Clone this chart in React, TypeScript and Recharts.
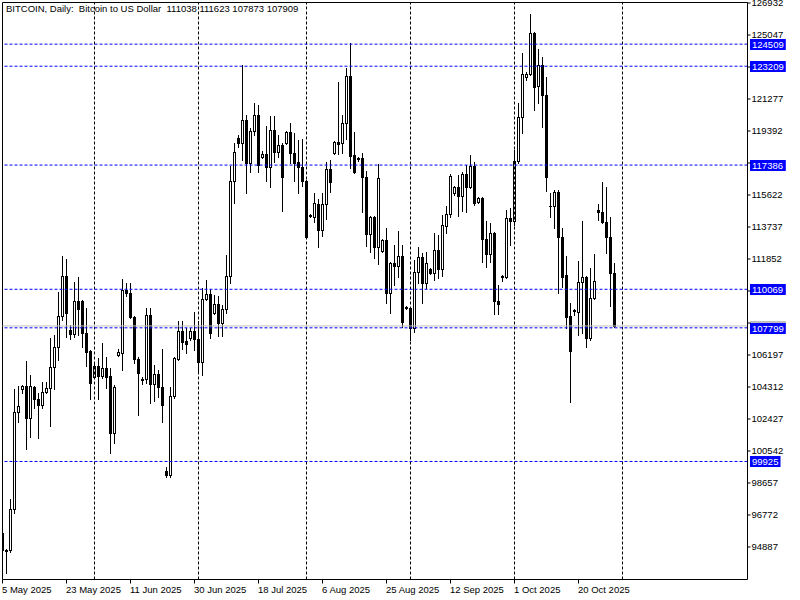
import React from "react";
import { ComposedChart, Bar, XAxis, YAxis, ReferenceLine } from "recharts";

const FONT = '"Liberation Sans", Arial, sans-serif';

// BITCOIN daily bars, 5 May 2025 .. 30 Oct 2025 (no Saturday bars)
const opens = [
  95712, 94681, 94711, 97126, 102840, 104195, 104371, 102486, 104313, 103605,
  103252, 104018, 104254, 105490, 106669, 108495, 110851, 107670, 107434, 109378,
  109378, 107493, 106433, 104901, 105549, 104960, 105431, 104960, 101603, 106197,
  106315, 110026, 109849, 108436, 105962, 104784, 104784, 108554, 104489, 105078,
  104313, 99364, 99129, 103782, 105962, 107611, 107022, 107199, 107611, 107140,
  105785, 109496, 109791, 108671, 109202, 108082, 108907, 110851, 116447, 118980,
  118685, 120040, 117507, 119392, 120335, 117861, 118038, 117272, 119451, 118155,
  118568, 118685, 119333, 118096, 117566, 117272, 116447, 114440, 114326, 115092,
  113561, 115092, 117154, 118096, 118744, 118685, 119864, 122632, 117979, 117802,
  117802, 116683, 113325, 114326, 112559, 112324, 112972, 109849, 111617, 111440,
  112029, 109025, 108966, 107788, 111087, 111970, 110439, 111263, 111028, 112383,
  111263, 113796, 114503, 115740, 116094, 115563, 116859, 116094, 117331, 115210,
  115446, 113030, 112147, 113384, 109378, 110800, 110792, 114268, 114091, 117625,
  120217, 122573, 122750, 125165, 122043, 123280, 121513, 115000, 114974, 115799,
  113148, 110910, 108495, 108789, 108730, 110498, 110792, 107199, 109555, 114739,
  114621, 114032, 113148, 111038,
];
const highs = [
  96007, 94770, 97715, 104195, 104371, 104430, 105844, 105019, 104371, 103959,
  104607, 104607, 107199, 107375, 109908, 112029, 111852, 107965, 110498, 110792,
  109437, 108966, 106492, 105785, 106021, 106904, 106080, 105431, 104430, 106551,
  110674, 110439, 110439, 108495, 106080, 104901, 108966, 108966, 105608, 105314,
  106551, 99600, 104313, 106080, 108200, 108200, 107788, 107788, 108730, 108200,
  110144, 110615, 110085, 109732, 109673, 109143, 112088, 117331, 118685, 119157,
  123280, 120335, 119569, 121042, 120924, 118214, 119687, 120276, 120276, 119157,
  118685, 119392, 119864, 119274, 118862, 118921, 116506, 114503, 115740, 115387,
  115740, 117566, 117684, 118803, 122279, 120335, 123103, 124576, 119333, 117861,
  118096, 117036, 114385, 114385, 117448, 113030, 113678, 111676, 112677, 113502,
  112677, 109084, 109025, 111793, 112559, 112206, 112265, 111322, 113384, 113266,
  114444, 114974, 116859, 116152, 116800, 116977, 117390, 117979, 117566, 115505,
  115505, 114091, 113973, 113443, 110321, 110910, 114739, 114857, 118273, 121042,
  123987, 122868, 126284, 125224, 124223, 123751, 122573, 115740, 115917, 115917,
  113678, 112029, 109260, 108907, 111734, 114091, 110851, 111322, 112147, 115092,
  116388, 116094, 114326, 111623,
];
const lows = [
  94593, 93356, 94593, 96890, 102251, 103959, 100660, 101367, 103075, 101308,
  103075, 103959, 102015, 104195, 105903, 108259, 107258, 107140, 107258, 107375,
  106669, 105549, 103605, 104842, 103605, 104842, 104254, 100425, 101014, 106138,
  105314, 109673, 108377, 105726, 102663, 104489, 104548, 103370, 103488, 103723,
  102251, 99011, 99011, 103664, 105903, 106551, 106315, 107081, 106492, 105196,
  105019, 109437, 107199, 108612, 107317, 107317, 108671, 110439, 115151, 118450,
  117684, 115740, 116977, 119157, 116977, 117802, 116447, 116094, 117566, 117861,
  114678, 118627, 117507, 116447, 115740, 116152, 113089, 114326, 114032, 112559,
  113207, 114209, 115799, 118038, 118038, 118096, 118921, 117213, 116918, 117625,
  114621, 112618, 112265, 111911, 111558, 112265, 109260, 108671, 110321, 110792,
  107847, 108907, 107081, 107552, 110439, 109260, 110144, 110969, 110615, 110733,
  110851, 113384, 114326, 115622, 114385, 114678, 114621, 116035, 115033, 115151,
  111676, 111381, 111676, 108612, 108612, 110556, 110733, 112677, 113855, 117507,
  119274, 122397, 122691, 120629, 121042, 119628, 115858, 114326, 113678, 109849,
  110203, 107788, 103429, 108554, 107375, 107493, 106669, 107081, 109496, 114150,
  113973, 112206, 109084, 107873,
];
const closes = [
  94711, 94740, 97126, 102840, 103193, 104371, 102486, 104371, 103605, 103252,
  104018, 104254, 105490, 106669, 108495, 110851, 108671, 107434, 109378, 108907,
  107493, 106374, 104548, 105549, 104960, 105431, 104901, 101603, 104313, 106374,
  110026, 109849, 108436, 105962, 105137, 104725, 108554, 104489, 105078, 104313,
  103252, 99129, 103782, 106021, 107611, 106963, 106845, 107611, 107140, 105785,
  109496, 109791, 107493, 109202, 108082, 108907, 110851, 116447, 118155, 118685,
  120040, 117507, 119392, 120335, 117390, 118038, 117272, 119451, 118155, 118568,
  116683, 119333, 118096, 117507, 117272, 116447, 113148, 114380, 115151, 113561,
  115092, 117154, 116388, 118744, 118627, 119864, 122632, 117920, 116977, 117743,
  116683, 113325, 114326, 112559, 116624, 112972, 109849, 111617, 111440, 112029,
  108141, 108966, 107788, 111087, 111970, 110439, 111617, 111028, 112383, 111263,
  113855, 114503, 116742, 116094, 115563, 116859, 116094, 117331, 115151, 115446,
  113030, 112147, 113384, 109378, 109202, 110850, 114268, 114091, 117625, 120217,
  122750, 122750, 125165, 121984, 123280, 121513, 116683, 114970, 115799, 113148,
  110792, 108436, 106433, 108848, 110498, 110792, 107199, 109555, 110556, 114621,
  114032, 113148, 111028, 107909,
];

const dateTicks = [0, 16, 32, 48, 64, 80, 96, 112, 128, 144];
const dateLabels = [
  "5 May 2025", "23 May 2025", "11 Jun 2025", "30 Jun 2025", "18 Jul 2025",
  "6 Aug 2025", "25 Aug 2025", "12 Sep 2025", "1 Oct 2025", "20 Oct 2025",
];
// first bar of each month (vertical grid)
const monthStarts = [23, 49, 76, 102, 128, 155];
const priceTicks = [
  126932, 125047, 123162, 121277, 119392, 117507, 115622, 113737, 111852,
  109967, 108082, 106197, 104312, 102427, 100542, 98657, 96772, 94887,
];
const levels = [124509, 123209, 117386, 110069, 107799, 99925];
const bid = 107909;

const X_DOMAIN = [0, 186.25];
const Y_DOMAIN = [92973, 126962];

const candles = opens.map((o, i) => ({
  i,
  open: o,
  high: highs[i],
  low: lows[i],
  close: closes[i],
  range: [lows[i], highs[i]],
}));

function Candle(props: any) {
  const { x, y, width, height, payload } = props;
  if (!payload) return null;
  const { open, high, low, close } = payload;
  const top = Math.min(y, y + height);
  const h = Math.abs(height);
  const k = high === low ? 0 : h / (high - low);
  const py = (v: number) => Math.round(top + (high - v) * k);
  const cx = Math.round(x + width / 2 - 0.5) + 0.5;
  const yo = py(open);
  const yc = py(close);
  const bt = Math.min(yo, yc);
  const bb = Math.max(yo, yc);
  const up = close >= open;
  return (
    <g>
      <line x1={cx} x2={cx} y1={py(high)} y2={py(low) + 1} stroke="#000" strokeWidth={1} />
      {bb - bt < 1 ? (
        <line x1={cx - 1.5} x2={cx + 1.5} y1={bt + 0.5} y2={bt + 0.5} stroke="#000" />
      ) : (
        <rect x={cx - 1} y={bt + 0.5} width={2} height={bb - bt} fill={up ? "#fff" : "#000"} stroke="#000" strokeWidth={1} />
      )}
    </g>
  );
}

function DateTick(props: any) {
  const { x, y, payload } = props;
  const label = dateLabels[dateTicks.indexOf(payload.value)];
  return (
    <text x={x - 0.5} y={y + 7} textAnchor="start" fontSize={9.5} fontFamily={FONT} fill="#000">
      {label}
    </text>
  );
}

// price labels that sit under a level tag are covered in the terminal, so leave them out
const covered = (v: number) =>
  [...levels, bid].some((lv) => Math.abs(lv - v) < 450);

function PriceTick(props: any) {
  const { x, y, payload } = props;
  if (covered(payload.value)) return null;
  return (
    <text x={x} y={y} dy="0.355em" textAnchor="start" fontSize={9.5} fontFamily={FONT} fill="#000">
      {payload.value}
    </text>
  );
}

const tag = (value: number, fill: string) => (props: any) => {
  const vb = props.viewBox;
  if (!vb) return null;
  const x0 = vb.x + vb.width + 2.5;
  const yy = Math.round(vb.y);
  const w = String(value).length * 5.3 + 4;
  return (
    <g>
      <rect x={x0} y={yy - 5} width={w} height={11} fill={fill} />
      <text x={x0 + 2} y={yy + 4} fill="#fff" fontSize={9.5} fontFamily={FONT}>
        {value}
      </text>
    </g>
  );
};

export default function App() {
  return (
    <div style={{ position: "absolute", left: 0, top: 0, width: 800, height: 600, background: "#fff" }}>
      <ComposedChart
        width={800}
        height={600}
        data={candles}
        margin={{ top: 2.5, right: 0, bottom: 0, left: 2.5 }}
      >
        <XAxis
          dataKey="i"
          type="number"
          domain={X_DOMAIN}
          ticks={dateTicks}
          interval={0}
          allowDataOverflow
          height={20.5}
          tickSize={4}
          tick={<DateTick />}
          axisLine={{ stroke: "#000" }}
          tickLine={{ stroke: "#000" }}
        />
        <YAxis
          orientation="right"
          type="number"
          domain={Y_DOMAIN}
          ticks={priceTicks}
          interval={0}
          allowDataOverflow
          width={52.5}
          tickSize={3}
          tickMargin={1}
          tick={<PriceTick />}
          axisLine={{ stroke: "#000" }}
          tickLine={{ stroke: "#000" }}
        />
        {monthStarts.map((m) => (
          <ReferenceLine key={"g" + m} x={m} stroke="#000" strokeDasharray="3 2" ifOverflow="visible" />
        ))}
        <Bar dataKey="range" barSize={3} shape={(p: any) => <Candle {...p} />} isAnimationActive={false} />
        <ReferenceLine x={X_DOMAIN[0]} stroke="#000" />
        <ReferenceLine y={Y_DOMAIN[1]} stroke="#000" />
        <ReferenceLine y={bid} stroke="#c0c0c0" label={tag(bid, "#c0c0c0")} />
        {levels.map((lv) => (
          <ReferenceLine key={lv} y={lv} stroke="#0000ff" strokeDasharray="3 2" label={tag(lv, "#0000ff")} />
        ))}
      </ComposedChart>
      <div
        style={{
          position: "absolute",
          left: 6,
          top: 3,
          fontFamily: FONT,
          fontSize: 9.5,
          whiteSpace: "pre",
          color: "#000",
          lineHeight: "11px",
        }}
      >
        {"BITCOIN, Daily:  Bitcoin to US Dollar  111038 111623 107873 107909"}
      </div>
    </div>
  );
}
